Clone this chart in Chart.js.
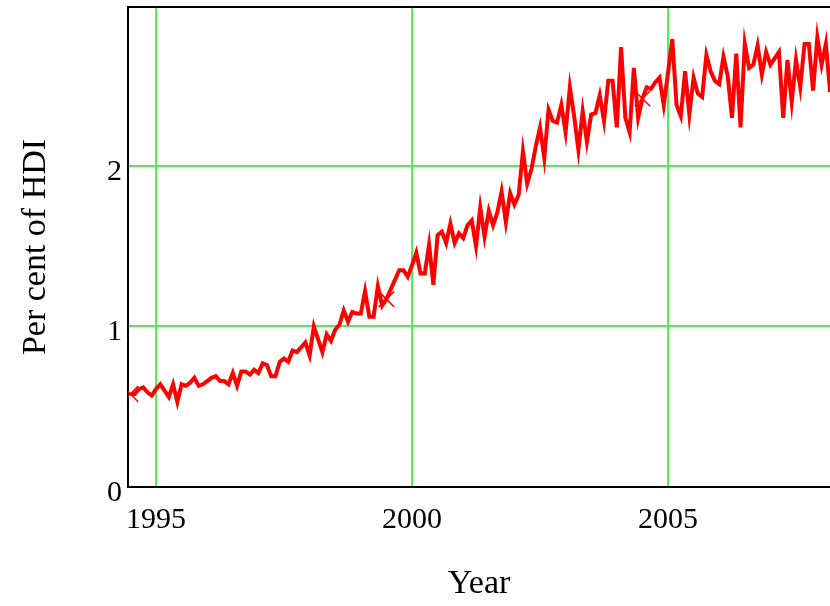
<!DOCTYPE html>
<html>
<head>
<meta charset="utf-8">
<script src="https://cdn.jsdelivr.net/npm/chart.js@4.4.1/dist/chart.umd.min.js"></script>
<style>
    html, body { margin: 0; padding: 0; background: #fff; }
</style>
</head>
<body>
<canvas id="myChart" width="830" height="606"></canvas>
<script>
// monthly series, first point mid 1994
const startYear = 1994.5;
const hdiValues = [
    0.58, 0.58, 0.61, 0.62, 0.59, 0.57, 0.61, 0.64, 0.60, 0.56,
    0.64, 0.53, 0.64, 0.63, 0.65, 0.68, 0.63, 0.64, 0.66, 0.68,
    0.69, 0.66, 0.66, 0.64, 0.71, 0.63, 0.72, 0.72, 0.70, 0.73,
    0.71, 0.77, 0.76, 0.69, 0.69, 0.78, 0.80, 0.78, 0.85, 0.84,
    0.87, 0.90, 0.82, 1.00, 0.92, 0.84, 0.95, 0.91, 0.98, 1.01,
    1.10, 1.03, 1.09, 1.08, 1.08, 1.22, 1.06, 1.06, 1.25, 1.13,
    1.17, 1.23, 1.29, 1.35, 1.35, 1.31, 1.38, 1.46, 1.33, 1.33,
    1.51, 1.26, 1.57, 1.59, 1.52, 1.64, 1.52, 1.58, 1.55, 1.63,
    1.66, 1.50, 1.74, 1.56, 1.72, 1.63, 1.71, 1.84, 1.65, 1.83,
    1.76, 1.82, 2.09, 1.89, 1.98, 2.12, 2.24, 2.05, 2.35, 2.28,
    2.27, 2.38, 2.21, 2.49, 2.31, 2.10, 2.34, 2.15, 2.32, 2.33,
    2.44, 2.28, 2.53, 2.53, 2.24, 2.74, 2.30, 2.21, 2.61, 2.30,
    2.42, 2.49, 2.48, 2.52, 2.55, 2.38, 2.58, 2.79, 2.38, 2.31,
    2.59, 2.32, 2.55, 2.45, 2.43, 2.69, 2.59, 2.53, 2.51, 2.68,
    2.56, 2.30, 2.70, 2.24, 2.76, 2.61, 2.63, 2.75, 2.57, 2.71,
    2.63, 2.67, 2.71, 2.30, 2.66, 2.40, 2.66, 2.49, 2.76, 2.76,
    2.47, 2.80, 2.63, 2.76, 2.46, 2.40
];
const markerIndices = [0, 60, 120];
const xTicks = [1995, 2000, 2005];
const yTicks = [0, 1, 2];

const points = hdiValues.map(function (v, i) {
    return { x: startYear + i / 12, y: v };
});

const serif = "'Liberation Serif', 'Times New Roman', serif";
const gridGreen = 'rgb(80, 240, 80)';

// black frame: top, left and bottom (right side runs off the picture)
const framePlugin = {
    id: 'frame',
    beforeDatasetsDraw(chart) {
        const { ctx, chartArea: a } = chart;
        ctx.save();
        ctx.strokeStyle = '#000';
        ctx.lineWidth = 2;
        ctx.beginPath();
        ctx.moveTo(a.right + 2, a.top);
        ctx.lineTo(a.left, a.top);
        ctx.lineTo(a.left, a.bottom);
        ctx.lineTo(a.right + 2, a.bottom);
        ctx.stroke();
        ctx.restore();
    },
};

const ctx = document.getElementById('myChart').getContext('2d');
window.myChart = new Chart(ctx, {
    type: 'line',
    data: {
        datasets: [
            {
                data: points,
                borderColor: '#ff0000',
                backgroundColor: '#ff0000',
                borderWidth: 4,
                tension: 0,
                fill: false,
                pointStyle: 'crossRot',
                pointRadius: function (c) {
                    return markerIndices.indexOf(c.dataIndex) >= 0 ? 11 : 0;
                },
                pointBorderWidth: 1.5,
                pointBorderColor: '#ff0000',
            },
        ],
    },
    options: {
        responsive: false,
        devicePixelRatio: 1,
        animation: false,
        layout: { autoPadding: false, padding: { top: 7, right: 0, left: 0, bottom: 0 } },
        plugins: {
            legend: { display: false },
            tooltip: { enabled: false },
        },
        scales: {
            x: {
                type: 'linear',
                min: 1994.453,
                max: 2008.164,
                afterBuildTicks: function (s) {
                    s.ticks = xTicks.map(function (v) { return { value: v }; });
                },
                afterFit: function (s) {
                    s.height = 119;
                    s.paddingLeft = 0;
                    s.paddingRight = 0;
                },
                border: { display: false },
                grid: { color: gridGreen, lineWidth: 2, drawTicks: false },
                ticks: {
                    color: '#000',
                    font: { family: serif, size: 30 },
                    padding: 15,
                    maxRotation: 0,
                    callback: function (v) { return String(v); },
                },
                title: {
                    display: true,
                    text: 'Year',
                    color: '#000',
                    font: { family: serif, size: 34 },
                    padding: { top: 0, bottom: 2 },
                },
            },
            y: {
                min: 0,
                max: 2.99,
                afterBuildTicks: function (s) {
                    s.ticks = yTicks.map(function (v) { return { value: v }; });
                },
                afterFit: function (s) {
                    s.width = 128;
                    s.paddingTop = 0;
                    s.paddingBottom = 0;
                },
                border: { display: false },
                grid: { color: gridGreen, lineWidth: 2, drawTicks: false },
                ticks: {
                    color: '#000',
                    font: { family: serif, size: 30 },
                    padding: 6,
                    labelOffset: 6,
                    callback: function (v) { return String(v); },
                },
                title: {
                    display: true,
                    text: 'Per cent of HDI',
                    color: '#000',
                    font: { family: serif, size: 34 },
                    padding: { top: 16, bottom: 0 },
                },
            },
        },
    },
    plugins: [framePlugin],
});
</script>
</body>
</html>
